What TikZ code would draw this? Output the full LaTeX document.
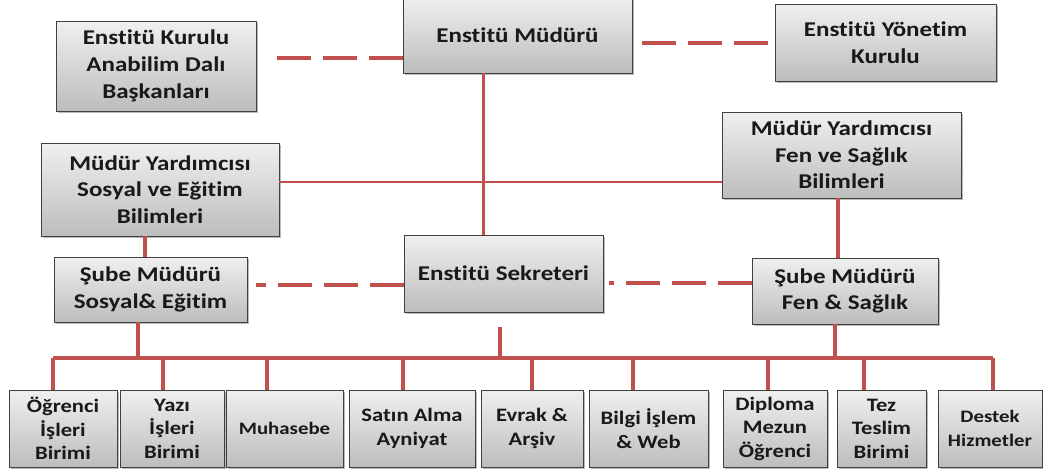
\documentclass[tikz,border=0pt]{standalone}
\usepackage{fontspec}
\setmainfont{Carlito}[FakeStretch=1.19, Ligatures=NoCommon]
\usetikzlibrary{shadows}

\definecolor{orgred}{HTML}{C0504D}

\begin{document}
\begin{tikzpicture}[x=1pt, y=-1pt,
    box/.style={draw=black!75, line width=0.8pt, top color=black!6,
      bottom color=black!26, align=center, inner sep=2pt,
      font=\fontsize{21}{26.7}\selectfont\bfseries, text=black!90,
      drop shadow={shadow xshift=1.5pt, shadow yshift=-1.5pt,
        fill=black!60, opacity=.45}},
    unit/.style 2 args={box, minimum height=77pt,
      font=\fontsize{#1}{#2}\selectfont\bfseries},
    line/.style={draw=orgred, line width=3.6pt},
    thinline/.style={draw=orgred, line width=2.6pt},
    dashline/.style={draw=orgred, line width=3.6pt,
      dash pattern=on 34pt off 12pt}]
    \useasboundingbox[fill=white] (0,0) rectangle (1043,474);

    % upper levels
    \node[box, minimum width=200pt, minimum height=90pt] (kurul) at (156,66)
      {Enstitü Kurulu\\Anabilim Dalı\\Başkanları};
    \node[box, minimum width=229pt, minimum height=76pt] (mudur) at (517.5,35)
      {Enstitü Müdürü};
    \node[box, minimum width=221pt, minimum height=77pt] (yonetim) at (885.5,42.5)
      {Enstitü Yönetim\\Kurulu};
    \node[box, minimum width=238pt, minimum height=93pt] (mysos) at (160,189.5)
      {Müdür Yardımcısı\\Sosyal ve Eğitim\\Bilimleri};
    \node[box, minimum width=239pt, minimum height=86pt] (myfen) at (841.5,155)
      {Müdür Yardımcısı\\Fen ve Sağlık\\Bilimleri};
    \node[box, minimum width=199pt, minimum height=77pt] (sekreter) at (503.5,273.5)
      {Enstitü Sekreteri};
    \node[box, minimum width=193pt, minimum height=65pt] (subesos) at (150.5,289.5)
      {Şube Müdürü\\Sosyal\& Eğitim};
    \node[box, minimum width=186pt, minimum height=66pt] (subefen) at (845,291)
      {Şube Müdürü\\Fen \& Sağlık};

    % units
    \foreach \n/\cx/\w/\f/\t in {
        ogrenci/63/108/19/{Öğrenci\\İşleri\\Birimi},
        yazi/172/104/19/{Yazı\\İşleri\\Birimi},
        muhasebe/284.5/117/17.5/{Muhasebe},
        satin/412/126/19/{Satın Alma\\Ayniyat},
        evrak/532/102/19/{Evrak \&\\Arşiv},
        bilgi/648.5/119/19/{Bilgi İşlem\\\& Web},
        diploma/775/104/19/{Diploma\\Mezun\\Öğrenci},
        tez/881.5/89/19/{Tez\\Teslim\\Birimi},
        destek/990/104/17.5/{Destek\\Hizmetler}}
      \node[unit={\f}{23.5}, minimum width=\w pt] (\n) at (\cx,428.5) {\t};

    % connectors
    \draw[dashline] ([xshift=21pt,yshift=8pt]kurul.east) coordinate (k1)
      -- (k1 -| mudur.west);
    \draw[dashline] ([xshift=10pt,yshift=-8pt]mudur.east) coordinate (m1)
      -- (m1 -| yonetim.west);
    \draw[line] ([xshift=-34pt]mudur.south) coordinate (m2) -- (m2 |- sekreter.north);
    \draw[thinline] ([yshift=7.5pt]mysos.east) coordinate (y1) -- (y1 -| myfen.west);
    \draw[line] ([xshift=-15pt]mysos.south) coordinate (y2) -- (y2 |- subesos.north);
    \draw[line] ([xshift=-3.5pt]myfen.south) coordinate (y3) -- (y3 |- subefen.north);
    \draw[dashline] ([yshift=-11.5pt]sekreter.west) coordinate (s1)
      -- ([xshift=9pt]s1 -| subesos.east);
    \draw[dashline] ([yshift=8pt]subefen.west) coordinate (s2)
      -- ([xshift=6pt]s2 -| sekreter.east);

    \coordinate (bus) at (0,358);
    \draw[line] ([xshift=-10pt]ogrenci.north |- bus) -- ([xshift=3pt]destek.north |- bus);
    \draw[line] ([xshift=-12.5pt]subesos.south) coordinate (b1) -- (b1 |- bus);
    \draw[line] ([xshift=-3.5pt,yshift=-15pt]sekreter.south) coordinate (b2) -- (b2 |- bus);
    \draw[line] ([xshift=-10pt]subefen.south) coordinate (b3) -- (b3 |- bus);
    \foreach \n/\s in {ogrenci/-10,yazi/-9,muhasebe/-17.5,satin/-9,evrak/0,
        bilgi/-15.5,diploma/-7,tez/-17.5,destek/3}
      \draw[line] ([xshift=\s pt]\n.north) coordinate (d) -- (d |- bus);
  \end{tikzpicture}
\end{document}
